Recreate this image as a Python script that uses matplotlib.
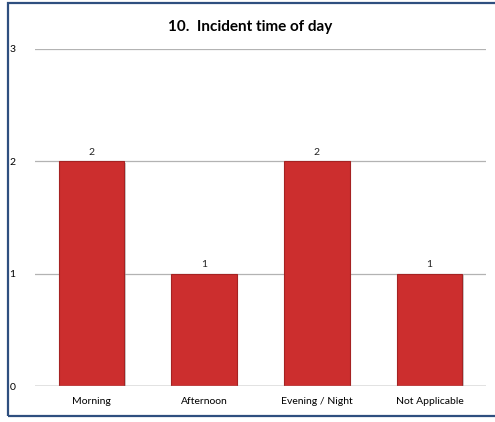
import matplotlib
matplotlib.use("Agg")
import matplotlib.pyplot as plt
from matplotlib.patches import Rectangle
import matplotlib.patheffects as pe

categories = ["Morning", "Afternoon", "Evening / Night", "Not Applicable"]
values = [2, 1, 2, 1]
yticks = [0, 1, 2, 3]
title = "10.  Incident time of day"

plt.rcParams['font.family'] = ['Lato', 'DejaVu Sans']

fig = plt.figure(figsize=(4.95, 4.22), dpi=100)
ax = fig.add_axes([35/495, 1-386/422, (486-35)/495, (386-49)/422])

x = range(len(categories))
bars = ax.bar(x, values, width=0.58, color="#cc2e2e", edgecolor="#a52222", linewidth=0.8, zorder=3)
for b in bars:
    b.set_path_effects([pe.SimplePatchShadow(offset=(1.2, -1.2), shadow_rgbFace="#999999", alpha=0.5), pe.Normal()])
for xi, v in zip(x, values):
    ax.text(xi, v + 0.04, str(v), ha="center", va="bottom", fontsize=7.5, color="#222222")

ax.set_xlim(-0.5, len(categories) - 0.5)
ax.set_ylim(0, 3)
ax.set_yticks(yticks)
ax.set_yticklabels([str(t) for t in yticks], fontsize=7.5)
ax.set_xticks(list(x))
ax.set_xticklabels(categories, fontsize=7.5)
ax.tick_params(length=0, pad=8)
ax.tick_params(axis='y', pad=14)
ax.grid(axis='y', color="#b3b3b3", linewidth=0.9, zorder=0)
for s in ax.spines.values():
    s.set_visible(False)
ax.axhline(0, color="#999999", linewidth=1.0, zorder=4)

fig.text(250/495, 1-27/422, title, ha="center", va="center", fontsize=11, fontweight="bold")

fig.patches.append(Rectangle((8/495, 1-416/422), 1.0, (416-3)/422, transform=fig.transFigure,
                             fill=False, edgecolor="#2f4f7f", linewidth=1.6, figure=fig))

fig.savefig("out.png", dpi=100)
